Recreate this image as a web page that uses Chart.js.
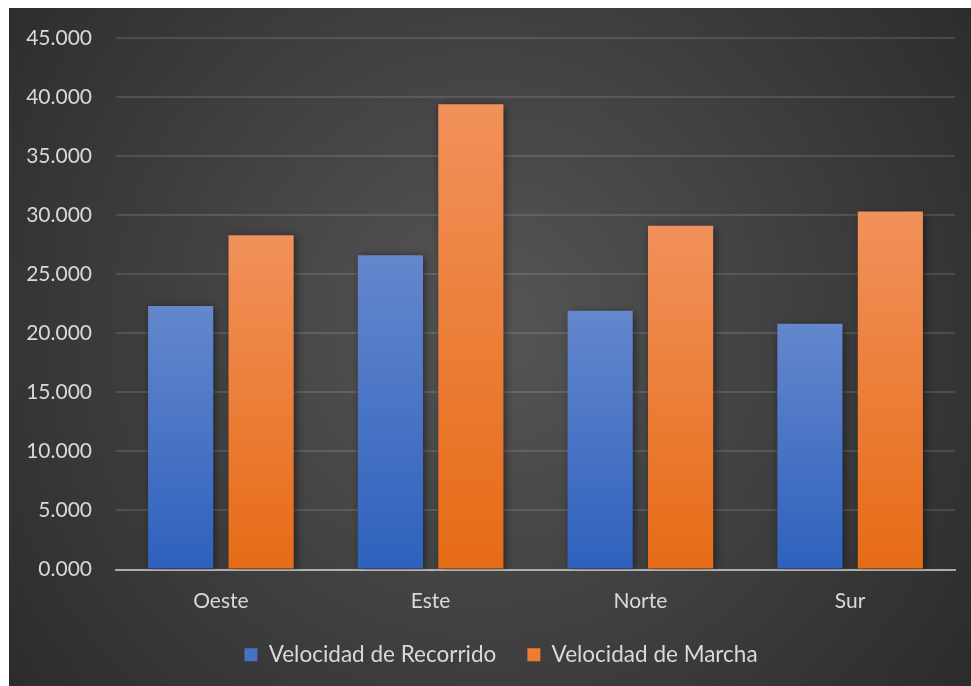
<!DOCTYPE html>
<html>
<head>
<meta charset="utf-8">
<script src="https://cdn.jsdelivr.net/npm/chart.js@4.4.1/dist/chart.umd.min.js"></script>
<style>
  html, body { margin: 0; padding: 0; background: #ffffff; }
  #wrap { position: absolute; left: 9px; top: 8px; width: 962px; height: 678px; }
</style>
</head>
<body>
<div id="wrap"><canvas id="chartCanvas" width="962" height="678"></canvas></div>
<script>
// Chart data
const categories = ['Oeste', 'Este', 'Norte', 'Sur'];
const velocidadRecorrido = [22.3, 26.6, 21.9, 20.8];
const velocidadMarcha = [28.3, 39.4, 29.1, 30.3];
const seriesNames = ['Velocidad de Recorrido', 'Velocidad de Marcha'];
const yTicks = { min: 0, max: 45, step: 5 };

const textColor = '#d9d9d9';
const fontFamily = 'Lato, "Open Sans", sans-serif';

// Per-bar vertical gradient (lighter at the top)
function barGradient(topColor, bottomColor) {
    return function (context) {
        const chart = context.chart;
        const yScale = chart.scales.y;
        if (!yScale || context.raw === undefined) return bottomColor;
        const top = yScale.getPixelForValue(context.raw);
        const base = yScale.getPixelForValue(0);
        if (!isFinite(top) || !isFinite(base) || top === base) return bottomColor;
        const g = chart.ctx.createLinearGradient(0, top, 0, base);
        g.addColorStop(0, topColor);
        g.addColorStop(1, bottomColor);
        return g;
    };
}

// Dark radial background behind the chart
const backgroundPlugin = {
    id: 'darkBackground',
    beforeDraw(chart) {
        const { ctx, width, height } = chart;
        const g = ctx.createRadialGradient(475, 320, 0, 475, 320, 620);
        g.addColorStop(0, '#565656');
        g.addColorStop(1, '#2a2a2a');
        ctx.save();
        ctx.fillStyle = g;
        ctx.fillRect(0, 0, width, height);
        ctx.restore();
    }
};

// Soft drop shadow on the bars
const shadowPlugin = {
    id: 'barShadow',
    beforeDatasetsDraw(chart) {
        const ctx = chart.ctx;
        ctx.save();
        ctx.shadowColor = 'rgba(0, 0, 0, 0.55)';
        ctx.shadowBlur = 9;
        ctx.shadowOffsetX = 2;
        ctx.shadowOffsetY = 2;
    },
    afterDatasetsDraw(chart) {
        chart.ctx.restore();
    }
};

// Legend sits a little right of centre, as in the original
const legendShiftPlugin = {
    id: 'legendShift',
    afterLayout(chart) {
        if (chart.legend) chart.legend.left += 38;
    }
};

function renderChart() {
    const ctx = document.getElementById('chartCanvas').getContext('2d');
    new Chart(ctx, {
        type: 'bar',
        data: {
            labels: categories,
            datasets: [
                {
                    label: seriesNames[0],
                    data: velocidadRecorrido,
                    backgroundColor: barGradient('#6487cd', '#2e61bd'),
                    legendColor: '#4472c4',
                    categoryPercentage: 0.767,
                    barPercentage: 0.81
                },
                {
                    label: seriesNames[1],
                    data: velocidadMarcha,
                    backgroundColor: barGradient('#f1915b', '#e66b16'),
                    legendColor: '#ed7d31',
                    categoryPercentage: 0.767,
                    barPercentage: 0.81
                }
            ]
        },
        options: {
            responsive: false,
            animation: false,
            devicePixelRatio: 1,
            layout: { padding: { top: 30, right: 16, left: 0, bottom: 10 } },
            plugins: {
                tooltip: { enabled: false },
                legend: {
                    position: 'bottom',
                    labels: {
                        color: textColor,
                        font: { family: fontFamily, size: 22.5 },
                        boxWidth: 13,
                        boxHeight: 13,
                        padding: 31,
                        generateLabels(chart) {
                            return chart.data.datasets.map((ds, i) => ({
                                text: ds.label,
                                fillStyle: ds.legendColor,
                                strokeStyle: ds.legendColor,
                                lineWidth: 0,
                                fontColor: textColor,
                                hidden: false,
                                datasetIndex: i
                            }));
                        }
                    }
                }
            },
            scales: {
                x: {
                    z: 1,
                    grid: { display: false, drawTicks: false },
                    border: { display: true, color: 'rgba(205, 205, 205, 0.75)', width: 2 },
                    ticks: {
                        color: textColor,
                        font: { family: fontFamily, size: 21 },
                        padding: 19
                    },
                    afterFit(scale) { scale.height = 43; }
                },
                y: {
                    min: yTicks.min,
                    max: yTicks.max,
                    grid: { color: 'rgba(255, 255, 255, 0.12)', lineWidth: 2, drawTicks: false },
                    border: { display: false },
                    ticks: {
                        stepSize: yTicks.step,
                        color: textColor,
                        font: { family: fontFamily, size: 21 },
                        padding: 24,
                        callback: (v) => Number(v).toFixed(3)
                    },
                    afterFit(scale) {
                        scale.width = 107;
                        scale.paddingTop = 0;
                        scale.paddingBottom = 0;
                    }
                }
            }
        },
        plugins: [backgroundPlugin, shadowPlugin, legendShiftPlugin]
    });
}

document.addEventListener('DOMContentLoaded', renderChart);
</script>
</body>
</html>
